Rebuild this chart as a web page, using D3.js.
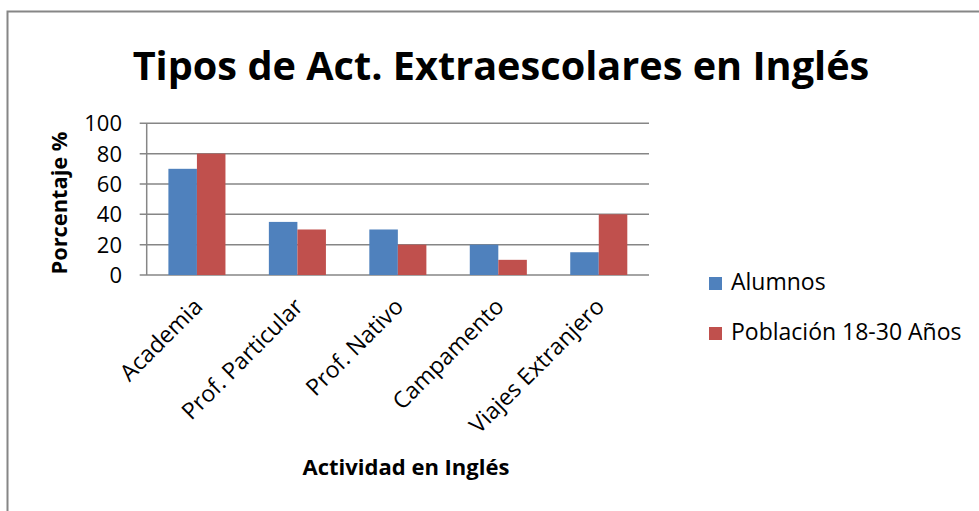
<!DOCTYPE html>
<html>
<head>
<meta charset="utf-8">
<script src="https://cdn.jsdelivr.net/npm/d3@7"></script>
<style>
body{margin:0;background:#fff;}
text{font-family:"Open Sans",sans-serif;fill:#000;}
</style>
</head>
<body>
<div id="chart"></div>
<script>
var categories = ["Academia","Prof. Particular","Prof. Nativo","Campamento","Viajes Extranjero"];
var seriesNames = ["Alumnos","Población 18-30 Años"];
var alumnos = [70,35,30,20,15];
var poblacion = [80,30,20,10,40];
var yTicks = [0,20,40,60,80,100];
var colors = ["#4F81BD","#C0504D"];

var W = 979, H = 511;
var svg = d3.select("#chart").append("svg").attr("width",W).attr("height",H);

// fit a text to a target width by adjusting font size
function fit(sel, target){
	var fs = parseFloat(sel.attr("font-size"));
	var len = sel.node().getComputedTextLength();
	sel.attr("font-size", fs*target/len);
}

// outer frame
svg.append("rect").attr("x",7.5).attr("y",11.5).attr("width",W).attr("height",H)
	.attr("fill","none").attr("stroke","#868686").attr("stroke-width",2);

var pLeft = 146.7, pRight = 649, pTop = 123.3, pBottom = 275;

var y = d3.scaleLinear().domain([0,100]).range([pBottom,pTop]);
var x0 = d3.scaleBand().domain(categories).range([pLeft,pRight]);
var bw = x0.bandwidth();
var x1 = d3.scaleBand().domain(seriesNames).range([bw*0.216, bw*0.784]);

// gridlines
svg.append("g").selectAll("line").data(yTicks).enter().append("line")
	.attr("x1",pLeft-7).attr("x2",pRight)
	.attr("y1",function(d){return y(d);}).attr("y2",function(d){return y(d);})
	.attr("stroke","#868686").attr("stroke-width",1.5);

svg.append("line").attr("x1",pLeft).attr("x2",pLeft).attr("y1",pTop).attr("y2",pBottom)
	.attr("stroke","#868686").attr("stroke-width",1.5);

// tick labels
var tl = svg.append("g").selectAll("text").data(yTicks).enter().append("text")
	.attr("x",122).attr("y",function(d){return y(d)+8;})
	.attr("text-anchor","end").attr("font-size",22)
	.text(function(d){return d;});

// bars
var rows = categories.map(function(c,i){return {cat:c, vals:[alumnos[i],poblacion[i]]};});
var g = svg.append("g").selectAll("g").data(rows).enter().append("g")
	.attr("transform",function(d){return "translate("+x0(d.cat)+",0)";});
g.selectAll("rect").data(function(d){return d.vals.map(function(v,j){return {s:seriesNames[j],v:v,j:j};});})
	.enter().append("rect")
	.attr("x",function(d){return x1(d.s);})
	.attr("width",x1.bandwidth())
	.attr("y",function(d){return y(d.v);})
	.attr("height",function(d){return pBottom-y(d.v);})
	.attr("fill",function(d){return colors[d.j];});

// category labels
svg.append("g").selectAll("text").data(categories).enter().append("text")
	.attr("text-anchor","end").attr("font-size",23)
	.attr("transform",function(d){return "translate("+(x0(d)+bw/2+7)+",308) rotate(-45)";})
	.text(function(d){return d;});

// title
var t = svg.append("text").attr("x",501).attr("y",80).attr("text-anchor","middle")
	.attr("font-weight","bold").attr("font-size",36)
	.text("Tipos de Act. Extraescolares en Inglés");
fit(t,737);

var xt = svg.append("text").attr("x",406).attr("y",475).attr("text-anchor","middle")
	.attr("font-weight","bold").attr("font-size",18).text("Actividad en Inglés");
fit(xt,207);

var yt = svg.append("text").attr("transform","translate(67,203) rotate(-90)")
	.attr("text-anchor","middle").attr("font-weight","bold").attr("font-size",19)
	.text("Porcentaje %");
fit(yt,143);

// legend
var lg = svg.append("g").selectAll("g").data(seriesNames).enter().append("g")
	.attr("transform",function(d,i){return "translate(709,"+(277+i*50)+")";});
lg.append("rect").attr("width",13).attr("height",13)
	.attr("fill",function(d,i){return colors[i];});
lg.append("text").attr("x",22).attr("y",13).attr("font-size",23)
	.text(function(d){return d;});
</script>
</body>
</html>
